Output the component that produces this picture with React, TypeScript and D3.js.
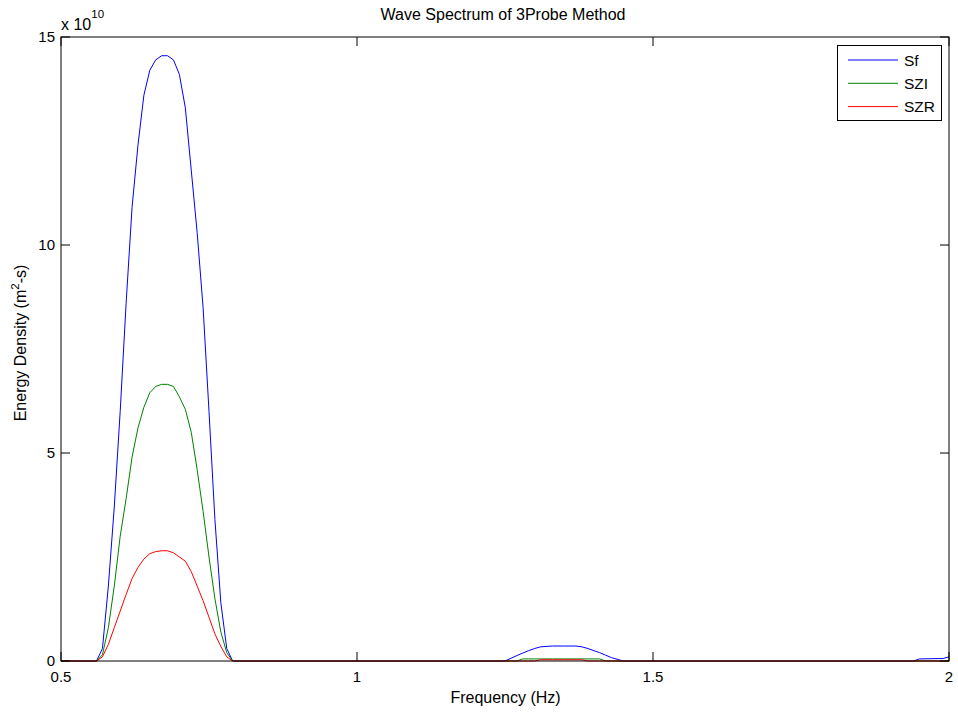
import React from "react";
import * as d3 from "d3";

// frequency grid (Hz) where the spectrum has values; zero elsewhere
const freq = [
  0.5,
  0.56, 0.57, 0.58, 0.59, 0.6, 0.61, 0.62, 0.63, 0.64, 0.65, 0.66, 0.67,
  0.68, 0.69, 0.7, 0.71, 0.72, 0.73, 0.74, 0.75, 0.76, 0.77, 0.78, 0.79,
  1.25, 1.27, 1.28, 1.29, 1.3, 1.31, 1.33, 1.35, 1.37, 1.38, 1.39, 1.41, 1.42, 1.43, 1.45,
  1.94, 1.95, 1.99, 2.0,
];

// energy density, units of 1e10 m^2-s
const sf = [
  0,
  0, 0.3, 1.8, 3.7, 6.0, 8.6, 10.9, 12.4, 13.6, 14.2, 14.45, 14.55,
  14.55, 14.45, 14.1, 13.3, 11.8, 10.3, 8.5, 6.0, 3.4, 1.4, 0.3, 0,
  0, 0.13, 0.19, 0.25, 0.3, 0.34, 0.36, 0.36, 0.36, 0.34, 0.3, 0.2, 0.14, 0.08, 0,
  0, 0.05, 0.06, 0.1,
];
const szi = [
  0,
  0, 0.15, 0.8, 1.8, 3.0, 3.9, 4.9, 5.6, 6.1, 6.45, 6.6, 6.65,
  6.65, 6.6, 6.35, 6.05, 5.5, 4.6, 3.6, 2.5, 1.5, 0.7, 0.2, 0,
  0, 0, 0.05, 0.05, 0.05, 0.05, 0.05, 0.05, 0.05, 0.05, 0.05, 0.05, 0, 0, 0,
  0, 0, 0, 0,
];
const szr = [
  0,
  0, 0.1, 0.4, 0.8, 1.2, 1.6, 1.98, 2.25, 2.45, 2.58, 2.63, 2.65,
  2.65, 2.6, 2.5, 2.4, 2.15, 1.8, 1.45, 1.05, 0.65, 0.35, 0.1, 0,
  0, 0, 0, 0, 0, 0.03, 0.03, 0.03, 0.03, 0.03, 0, 0, 0, 0, 0,
  0, 0, 0, 0,
];

const seriesNames = ["Sf", "SZI", "SZR"];
const seriesColors = ["#0000ff", "#008000", "#ff0000"];
const xTicks = [0.5, 1, 1.5, 2];
const yTicks = [0, 5, 10, 15];

const W = 958;
const H = 713;
const left = 61;
const right = 949;
const top = 37;
const bottom = 661;
const font = "'Liberation Sans', Arial, sans-serif";

const App = () => {
  const x = d3.scaleLinear().domain([0.5, 2]).range([left, right]);
  const y = d3.scaleLinear().domain([0, 15]).range([bottom, top]);

  const line = d3
    .line<number>()
    .x((_, i) => x(freq[i]))
    .y((d) => y(d));

  const allSeries = [sf, szi, szr];
  const tickLen = 9;

  return (
    <svg
      width={W}
      height={H}
      style={{ position: "absolute", left: 0, top: 0, background: "#fff" }}
      fontFamily={font}
    >
      <rect x={0} y={0} width={W} height={H} fill="#fff" />

      {/* curves */}
      {allSeries.map((s, i) => (
        <path key={seriesNames[i]} d={line(s) || ""} fill="none" stroke={seriesColors[i]} strokeWidth={1} />
      ))}

      {/* axes box */}
      <rect x={left} y={top} width={right - left} height={bottom - top} fill="none" stroke="#000" strokeWidth={1} />

      {/* x ticks */}
      {xTicks.map((t) => (
        <g key={"x" + t}>
          <line x1={x(t)} x2={x(t)} y1={bottom} y2={bottom - tickLen} stroke="#000" />
          <line x1={x(t)} x2={x(t)} y1={top} y2={top + tickLen} stroke="#000" />
          <text x={x(t)} y={682} fontSize={15} textAnchor="middle">
            {String(t)}
          </text>
        </g>
      ))}

      {/* y ticks */}
      {yTicks.map((t) => (
        <g key={"y" + t}>
          <line x1={left} x2={left + tickLen} y1={y(t)} y2={y(t)} stroke="#000" />
          <line x1={right} x2={right - tickLen} y1={y(t)} y2={y(t)} stroke="#000" />
          <text x={left - 6} y={y(t) + 5} fontSize={15} textAnchor="end">
            {t}
          </text>
        </g>
      ))}

      {/* exponent */}
      <text x={61} y={30} fontSize={16}>
        x 10
        <tspan dy={-12} fontSize={11.5}>10</tspan>
      </text>

      {/* title and labels */}
      <text x={503} y={20} fontSize={16} textAnchor="middle">
        Wave Spectrum of 3Probe Method
      </text>
      <text x={(left + right) / 2 + 0.5} y={703} fontSize={16} textAnchor="middle">
        Frequency (Hz)
      </text>
      <text transform={`translate(26,343) rotate(-90)`} fontSize={16} textAnchor="middle">
        Energy Density (m
        <tspan dy={-7} fontSize={11.5}>2</tspan>
        <tspan dy={7}>-s)</tspan>
      </text>

      {/* legend */}
      <rect x={837.5} y={45.5} width={104} height={75} fill="#fff" stroke="#000" />
      {seriesNames.map((n, i) => (
        <g key={"lg" + n}>
          <line x1={848} x2={898} y1={60 + i * 23.3} y2={60 + i * 23.3} stroke={seriesColors[i]} />
          <text x={904} y={65.5 + i * 23.3} fontSize={15.5}>
            {n}
          </text>
        </g>
      ))}
    </svg>
  );
};

export default App;
